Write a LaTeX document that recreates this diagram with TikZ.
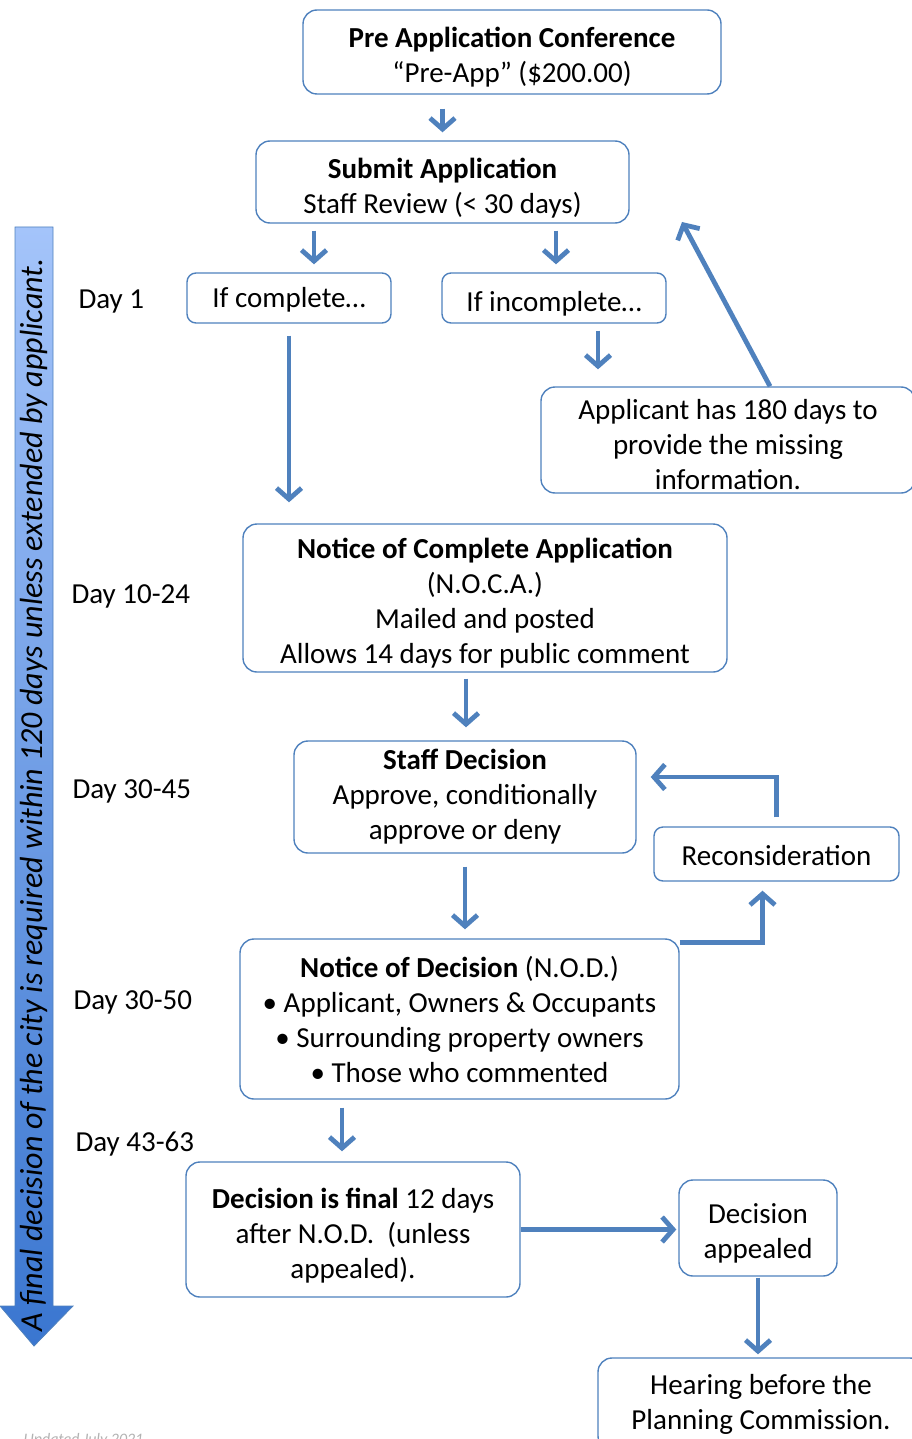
\documentclass[tikz,border=0pt]{standalone}
\usepackage{fontspec}
\setmainfont{Carlito}
\usetikzlibrary{arrows.meta}
\definecolor{flowblue}{RGB}{79,129,189}
\definecolor{arrowtop}{RGB}{164,196,250}
\definecolor{arrowbot}{RGB}{58,118,208}
\newcommand{\boxlift}[1]{\rule{0pt}{#1pt}}
\tikzset{
    box/.style={draw=flowblue, line width=1.4pt, rounded corners=14pt, align=center, inner sep=0pt, font=\fontsize{29}{35}\selectfont},
    flow/.style={draw=flowblue, line width=4.8pt, -{Straight Barb[length=11pt,width=25pt]}},
    daylbl/.style={anchor=west, font=\fontsize{29}{35}\selectfont}
}
\begin{document}
\begin{tikzpicture}[x=1pt,y=-1pt]
    \useasboundingbox (0,0) rectangle (911,1439);
    % freccia dei 120 giorni
    \shade[top color=arrowtop, bottom color=arrowbot, draw=flowblue, line width=0.8pt] (15,227) -- (53,227) -- (53,1306) -- (73,1306) -- (34,1346) -- (0,1306) -- (15,1306) -- cycle;
    \node (limit) at (34,795) [rotate=90, font=\fontsize{32}{36}\selectfont\itshape] {A final decision of the city is required within 120 days unless extended by applicant.};
    \foreach \n/\lbl/\xx/\yy in {d1/Day 1/75/302, d2/Day 10-24/68/596, d3/Day 30-45/69/791, d4/Day 30-50/70/1002, d5/Day 43-63/72/1144} {
        \node (\n) at (\xx,\yy) [daylbl] {\lbl};
    }
    % caselle
    \node (preapp) at (512,52) [box, minimum width=418pt, minimum height=84pt] {\boxlift{30}\textbf{Pre Application Conference}\\“Pre-App” (\$200.00)};
    \node (submit) at (442.5,182) [box, minimum width=373pt, minimum height=82pt] {\boxlift{32}\textbf{Submit Application}\\Staff Review (< 30 days)};
    \node (complete) at (289,298) [box, rounded corners=9pt, minimum width=204pt, minimum height=50pt] {\boxlift{24}If complete…};
    \node (incomplete) at (554,298) [box, rounded corners=9pt, minimum width=224pt, minimum height=50pt] {\boxlift{32}If incomplete…};
    \node (applicant) at (728,440) [box, minimum width=374pt, minimum height=106pt] {\boxlift{30}Applicant has 180 days to\\provide the missing\\information.};
    \node (noca) at (485,598) [box, minimum width=484pt, minimum height=148pt] {\boxlift{30}\textbf{Notice of Complete Application}\\(N.O.C.A.)\\Mailed and posted\\Allows 14 days for public comment};
    \node (staff) at (465,797) [box, minimum width=342pt, minimum height=112pt] {\textbf{Staff Decision}\\Approve, conditionally\\approve or deny};
    \node (recon) at (776.5,854) [box, rounded corners=9pt, minimum width=245pt, minimum height=54pt] {\boxlift{24}Reconsideration};
    \node (nod) at (459.5,1019) [box, minimum width=439pt, minimum height=160pt] {\textbf{Notice of Decision} (N.O.D.)\\• Applicant, Owners \& Occupants\\• Surrounding property owners\\• Those who commented};
    \node (final) at (353,1229.5) [box, minimum width=334pt, minimum height=135pt] {\boxlift{32}\textbf{Decision is final} 12 days\\after N.O.D.\ \ (unless\\appealed).};
    \node (appealed) at (758,1228) [box, minimum width=158pt, minimum height=96pt] {\boxlift{30}Decision\\appealed};
    \node (hearing) at (761,1404) [box, minimum width=326pt, minimum height=92pt] {Hearing before the\\Planning Commission.};
    \node (updated) at (20,1444) [anchor=base west, text=gray!60, font=\fontsize{16}{18}\selectfont\itshape] {Updated July 2021};
    % frecce
    \coordinate (back) at (682,222);
    \draw[flow, shorten <=14pt, shorten >=8pt] (preapp.south -| submit.north) -- (submit.north);
    \draw[flow, shorten <=7pt, shorten >=8pt] ([xshift=25pt]complete.north |- submit.south) -- ([xshift=25pt]complete.north);
    \draw[flow, shorten <=7pt, shorten >=8pt] ([xshift=2pt]incomplete.north |- submit.south) -- ([xshift=2pt]incomplete.north);
    \draw[flow, shorten <=7pt, shorten >=17pt] ([xshift=44pt]incomplete.south) -- ([xshift=44pt]incomplete.south |- applicant.north);
    \draw[flow] ([xshift=42pt]applicant.north) -- (back);
    \draw[flow, shorten <=12pt, shorten >=21pt] (complete.south) -- (complete.south |- noca.north);
    \draw[flow, shorten <=6pt, shorten >=13pt] ([xshift=-19pt]noca.south) -- ([xshift=-19pt]noca.south |- staff.north);
    \draw[flow, shorten <=9pt, shorten >=14pt] (recon.north) |- ([yshift=20pt]staff.east);
    \draw[flow, shorten >=9pt] ([yshift=-4pt]nod.north east) -| ([xshift=-14pt]recon.south);
    \draw[flow, shorten <=13pt, shorten >=9pt] (staff.south) -- (staff.south |- nod.north);
    \draw[flow, shorten <=8pt, shorten >=10pt] ([xshift=-11pt]final.north |- nod.south) -- ([xshift=-11pt]final.north);
    \draw[flow, shorten >=2pt] (final.east) -- (final.east -| appealed.west);
    \draw[flow, shorten <=1pt, shorten >=3pt] (appealed.south) -- (appealed.south |- hearing.north);
\end{tikzpicture}
\end{document}
